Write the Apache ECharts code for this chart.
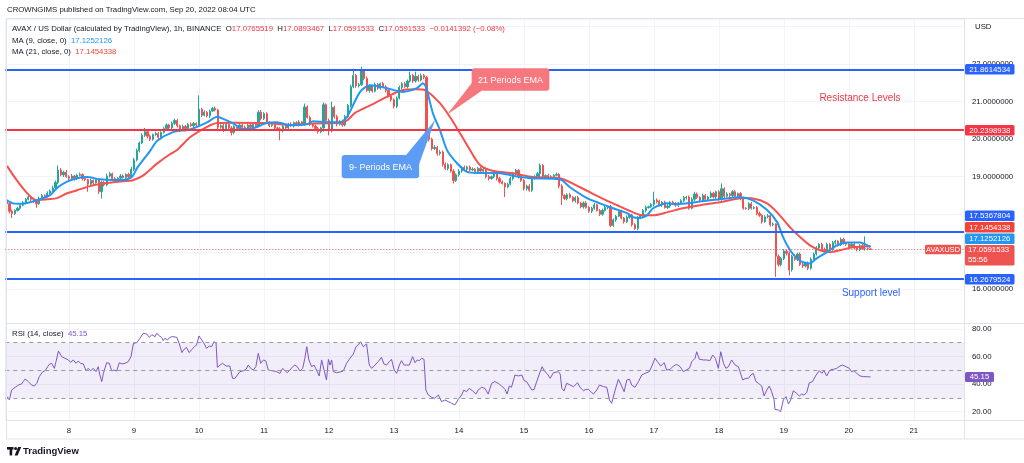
<!DOCTYPE html>
<html>
<head>
<meta charset="utf-8">
<title>AVAX / US Dollar 1h</title>
<script src="https://cdn.jsdelivr.net/npm/echarts@6/dist/echarts.min.js"></script>
<style>
html,body{margin:0;padding:0;background:#ffffff;}
#chart{width:1024px;height:463px;}
</style>
</head>
<body>
<div id="chart"></div>
<script>
// ================= DATA =================
// hour index i: 0 = Sep 7 00:00 UTC, one slot per hour
const startDay = 7;
const hourSlots = 354;
const firstOpen = 18.38;

const closes = [
18.28,18.08,18.02,18.10,18.16,18.24,18.30,18.40,18.46,18.40,18.34,18.28,18.42,18.50,18.48,18.56,18.62,18.70,18.85,19.18,19.05,19.12,19.00,18.96,
19.02,18.95,19.04,19.06,18.95,18.92,18.80,18.90,18.84,18.92,18.60,18.85,18.78,19.02,19.08,18.95,18.90,18.96,19.02,18.98,19.06,19.00,19.20,19.45,
19.70,19.90,20.10,20.20,20.08,20.00,20.12,20.15,20.05,20.18,20.28,20.38,20.30,20.42,20.50,20.36,20.25,20.34,20.28,20.40,20.36,20.42,20.38,20.80,
20.64,20.72,20.62,20.75,20.82,20.78,20.32,20.36,20.24,20.40,20.30,20.18,20.34,20.28,20.38,20.32,20.30,20.38,20.32,20.40,20.36,20.72,20.55,20.68,
20.45,20.36,20.40,20.30,20.28,20.22,20.35,20.30,20.40,20.36,20.44,20.38,20.46,20.40,20.86,20.58,20.40,20.35,20.28,20.20,20.30,20.92,20.50,20.22,
20.85,20.60,20.40,20.48,20.38,20.60,20.90,21.40,21.70,21.42,21.45,21.82,21.62,21.30,21.42,21.28,21.46,21.36,21.48,21.40,21.30,21.15,21.05,20.88,
21.10,21.38,21.48,21.40,21.55,21.70,21.55,21.68,21.58,21.70,21.65,20.15,20.00,19.75,19.78,19.62,19.66,19.33,19.22,19.32,19.15,18.90,19.05,19.15,
19.25,19.20,19.26,19.18,19.20,19.14,19.22,19.15,19.20,19.00,18.95,19.00,19.10,18.95,18.86,18.82,18.73,18.80,18.95,19.08,19.17,19.00,18.90,18.68,
18.75,18.64,18.95,19.00,19.08,19.30,19.00,19.03,18.98,19.00,19.04,19.06,18.75,18.50,18.42,18.52,18.45,18.36,18.44,18.30,18.20,18.30,18.18,18.08,
18.16,18.25,18.10,18.00,18.10,18.18,18.20,17.70,17.85,17.95,18.08,17.90,17.80,17.92,17.98,17.72,17.62,17.90,17.96,18.10,18.18,18.20,18.26,18.38,
18.34,18.25,18.32,18.18,18.22,18.32,18.28,18.24,18.30,18.36,18.44,18.46,18.16,18.40,18.54,18.45,18.38,18.50,18.40,18.46,18.56,18.46,18.60,18.40,
18.68,18.48,18.54,18.50,18.60,18.48,18.55,18.42,18.16,18.15,18.28,18.16,18.18,18.02,17.97,17.80,17.93,17.96,17.72,17.74,16.88,16.66,16.82,17.02,
16.96,16.52,16.88,16.80,16.94,16.66,16.62,16.70,16.56,16.80,16.94,17.10,17.20,17.06,17.02,17.20,17.06,17.24,17.28,17.18,17.33,17.24,17.20,17.14,
17.20,17.10,17.06,17.16,17.08,17.08,17.0765519,17.0591533
];

const wickUp = [
0.04,0.03,0.05,0.03,0.04,0.02,0.05,0.03,0.06,0.03,0.04,0.03,0.05,0.04,0.03,0.05,0.04,0.06,0.05,0.12,0.05,0.04,0.06,0.04,
0.05,0.03,0.04,0.05,0.03,0.04,0.03,0.05,0.03,0.04,0.03,0.05,0.04,0.06,0.05,0.03,0.04,0.03,0.05,0.04,0.03,0.05,0.06,0.05,
0.05,0.04,0.06,0.10,0.04,0.05,0.03,0.05,0.04,0.03,0.05,0.04,0.03,0.05,0.05,0.04,0.03,0.05,0.04,0.03,0.05,0.04,0.03,0.37,
0.04,0.05,0.03,0.04,0.04,0.05,0.03,0.04,0.05,0.03,0.04,0.05,0.03,0.04,0.05,0.03,0.04,0.03,0.05,0.04,0.03,0.05,0.06,0.04,
0.04,0.03,0.05,0.04,0.03,0.04,0.05,0.03,0.04,0.05,0.03,0.04,0.05,0.03,0.09,0.04,0.05,0.03,0.04,0.05,0.03,0.06,0.04,0.05,
0.15,0.04,0.05,0.03,0.04,0.05,0.04,0.05,0.18,0.04,0.05,0.11,0.04,0.05,0.04,0.03,0.05,0.04,0.03,0.05,0.04,0.03,0.05,0.04,
0.04,0.05,0.04,0.05,0.04,0.10,0.04,0.12,0.04,0.05,0.04,0.03,0.05,0.04,0.06,0.04,0.05,0.04,0.05,0.04,0.03,0.05,0.04,0.05,
0.04,0.05,0.03,0.04,0.05,0.03,0.04,0.05,0.03,0.04,0.05,0.03,0.04,0.03,0.05,0.04,0.03,0.04,0.05,0.05,0.04,0.03,0.05,0.04,
0.04,0.05,0.03,0.04,0.05,0.05,0.04,0.03,0.05,0.04,0.03,0.05,0.04,0.05,0.03,0.04,0.05,0.03,0.04,0.05,0.03,0.04,0.05,0.04,
0.04,0.05,0.03,0.04,0.05,0.04,0.03,0.05,0.04,0.03,0.05,0.04,0.03,0.05,0.04,0.03,0.04,0.05,0.03,0.04,0.05,0.03,0.04,0.22,
0.04,0.05,0.03,0.04,0.05,0.03,0.04,0.05,0.03,0.04,0.05,0.03,0.04,0.05,0.06,0.04,0.03,0.05,0.04,0.03,0.05,0.04,0.03,0.04,
0.14,0.04,0.05,0.03,0.04,0.05,0.03,0.04,0.05,0.03,0.04,0.05,0.03,0.04,0.05,0.03,0.04,0.05,0.03,0.04,0.02,0.05,0.04,0.05,
0.04,0.05,0.04,0.05,0.03,0.04,0.05,0.03,0.04,0.05,0.04,0.05,0.03,0.04,0.05,0.04,0.03,0.05,0.04,0.03,0.05,0.04,0.03,0.04,
0.04,0.05,0.03,0.04,0.05,0.33,0.03,0.0128
];

const wickDn = [
0.05,0.06,0.12,0.04,0.03,0.05,0.03,0.04,0.03,0.05,0.04,0.11,0.03,0.04,0.05,0.03,0.04,0.03,0.04,0.05,0.04,0.06,0.03,0.05,
0.03,0.05,0.04,0.03,0.05,0.04,0.20,0.04,0.05,0.03,0.06,0.18,0.04,0.03,0.04,0.05,0.03,0.05,0.04,0.03,0.05,0.04,0.04,0.05,
0.04,0.05,0.03,0.04,0.06,0.05,0.04,0.03,0.05,0.04,0.03,0.05,0.04,0.03,0.04,0.05,0.06,0.03,0.05,0.04,0.03,0.05,0.04,0.04,
0.05,0.03,0.04,0.05,0.03,0.04,0.06,0.04,0.05,0.03,0.04,0.08,0.05,0.04,0.03,0.05,0.04,0.03,0.05,0.04,0.03,0.04,0.05,0.04,
0.05,0.04,0.03,0.05,0.04,0.25,0.04,0.05,0.03,0.04,0.05,0.03,0.04,0.05,0.04,0.03,0.05,0.04,0.03,0.05,0.04,0.10,0.05,0.12,
0.04,0.05,0.06,0.04,0.05,0.04,0.03,0.05,0.04,0.05,0.04,0.03,0.05,0.04,0.06,0.04,0.03,0.05,0.04,0.03,0.05,0.04,0.05,0.06,
0.05,0.04,0.05,0.03,0.05,0.04,0.05,0.04,0.05,0.04,0.05,0.13,0.06,0.05,0.04,0.06,0.05,0.06,0.04,0.05,0.04,0.08,0.04,0.05,
0.04,0.03,0.05,0.04,0.03,0.05,0.04,0.03,0.05,0.04,0.05,0.03,0.04,0.05,0.04,0.03,0.27,0.04,0.03,0.05,0.04,0.05,0.04,0.05,
0.05,0.04,0.05,0.03,0.04,0.10,0.05,0.04,0.03,0.05,0.04,0.03,0.06,0.25,0.04,0.05,0.03,0.04,0.05,0.03,0.04,0.05,0.03,0.04,
0.05,0.04,0.03,0.05,0.04,0.03,0.05,0.05,0.04,0.05,0.03,0.04,0.05,0.03,0.04,0.05,0.04,0.05,0.03,0.04,0.05,0.03,0.04,0.05,
0.05,0.04,0.05,0.03,0.04,0.05,0.03,0.04,0.05,0.03,0.04,0.05,0.04,0.03,0.05,0.04,0.05,0.03,0.04,0.05,0.03,0.04,0.05,0.04,
0.04,0.05,0.03,0.04,0.05,0.03,0.04,0.05,0.04,0.03,0.05,0.04,0.03,0.05,0.04,0.05,0.03,0.04,0.05,0.04,0.55,0.06,0.05,0.04,
0.06,0.15,0.05,0.04,0.05,0.04,0.05,0.04,0.05,0.04,0.05,0.04,0.05,0.04,0.03,0.05,0.04,0.03,0.05,0.04,0.03,0.05,0.04,0.05,
0.04,0.03,0.05,0.04,0.03,0.05,0.04,0.0
];

// MA (9) line vertices: [hour index, price]
const ma9Pts = [
[1.1,18.37],[3.3,18.29],[5.9,18.28],[9.6,18.32],[13.3,18.40],[17.0,18.51],[19.9,18.72],[23.3,18.87],[27.0,18.96],[30.6,18.99],
[35.5,18.93],[40.3,18.91],[43.9,18.91],[47.3,19.00],[49.1,19.23],[51.3,19.44],[53.9,19.68],[56.5,19.95],[62.4,20.19],[68.7,20.26],
[75.0,20.45],[78.7,20.60],[81.6,20.52],[84.6,20.42],[88.3,20.27],[91.9,20.29],[97.1,20.43],[100.8,20.45],[105.6,20.37],[111.9,20.40],
[114.1,20.48],[120.4,20.45],[124.1,20.45],[126.7,20.60],[131.5,21.26],[135.2,21.44],[141.4,21.36],[147.3,21.26],[152.5,21.36],[154.7,21.49],
[155.8,21.40],[158.4,20.69],[161.0,20.24],[163.6,19.71],[167.3,19.36],[171.0,19.13],[175.8,19.10],[183.2,19.09],[190.5,18.99],[195.3,18.96],
[205.3,18.93],[209.0,18.72],[215.3,18.43],[220.1,18.29],[224.9,18.16],[230.1,18.03],[232.3,17.92],[234.9,17.90],[237.4,17.97],[239.7,18.16],
[244.8,18.29],[248.5,18.27],[253.3,18.30],[257.0,18.34],[264.4,18.40],[271.8,18.45],[276.6,18.37],[281.8,18.11],[285.5,17.79],[287.7,17.39],
[290.3,17.04],[292.8,16.83],[295.1,16.72],[297.6,16.69],[300.2,16.83],[303.9,16.99],[307.6,17.17],[311.3,17.25],[316.1,17.25],[320,17.1252126]
];

// MA (21) line vertices: [hour index, price]
const ma21Pts = [
[1.1,19.29],[12.2,18.37],[15.9,18.40],[19.6,18.43],[23.3,18.56],[27.0,18.64],[31.8,18.75],[38.0,18.83],[43.9,18.88],[47.3,18.90],
[51.3,19.03],[56.5,19.35],[61.3,19.60],[63.9,19.71],[68.7,20.05],[75.0,20.33],[78.7,20.43],[84.6,20.44],[97.1,20.43],[106.7,20.38],
[114.1,20.42],[124.1,20.44],[126.7,20.50],[129.6,20.70],[135.2,20.90],[141.4,21.13],[147.3,21.31],[152.5,21.33],[155.5,21.31],[161.0,20.96],
[164.7,20.59],[168.4,20.16],[172.1,19.71],[175.8,19.31],[180.6,19.15],[188.0,19.09],[195.3,18.99],[205.3,18.96],[212.7,18.72],[220.1,18.45],
[226.4,18.24],[232.3,18.05],[236.0,17.97],[239.7,17.97],[244.8,18.05],[250.7,18.16],[257.0,18.24],[264.4,18.32],[272.9,18.43],[276.6,18.42],
[281.8,18.29],[285.5,18.05],[290.3,17.65],[294.0,17.39],[297.6,17.17],[301.3,17.04],[305.0,16.99],[308.7,17.04],[313.5,17.12],[320,17.1454338]
];

// RSI (14) vertices: [hour index, RSI]
const rsiPts = [
[1.2,30.9],[2.0,28.5],[2.8,35.7],[4.1,37.6],[5.3,39.3],[6.5,40.1],[7.1,41.8],[7.8,43.7],[9.0,41.8],[10.2,39.3],[11.2,38.6],[12.1,40.5],
[13.0,45.4],[14.3,49.0],[15.1,49.5],[15.8,49.0],[16.7,54.3],[17.6,55.1],[18.6,51.4],[19.2,56.2],[20.1,64.0],[21.3,59.9],[22.5,58.7],[23.8,57.5],
[24.6,55.8],[25.6,57.5],[26.6,55.1],[27.4,56.7],[28.3,55.1],[29.3,54.6],[30.3,49.7],[31.1,51.4],[32.0,49.7],[33.0,51.4],[34.0,49.0],[34.8,52.6],
[35.4,46.6],[36.1,41.8],[36.7,47.8],[37.9,55.5],[38.9,55.1],[39.8,49.5],[40.6,50.2],[41.6,49.5],[42.6,55.5],[43.6,54.6],[44.7,55.1],[45.9,56.3],
[46.9,59.9],[47.8,69.5],[49.0,70.0],[50.2,73.2],[51.4,76.8],[52.7,76.3],[53.7,73.9],[54.6,75.8],[55.8,74.4],[56.4,76.8],[57.4,74.9],[58.2,73.9],
[58.8,71.5],[59.4,73.2],[60.4,72.0],[61.3,73.9],[62.3,74.4],[63.8,73.9],[64.7,69.5],[65.7,62.8],[66.5,65.2],[67.4,66.6],[68.4,62.8],[69.4,65.2],
[70.3,67.1],[71.1,68.3],[72.0,74.9],[73.0,72.0],[74.0,69.1],[74.8,65.9],[75.8,67.6],[76.7,67.1],[77.5,70.7],[78.3,70.0],[78.8,52.1],[79.8,53.8],
[80.7,55.1],[82.0,53.1],[83.4,53.1],[84.4,44.2],[85.3,44.2],[86.2,46.6],[87.1,49.0],[88.4,49.7],[89.4,50.7],[90.2,53.8],[91.1,51.4],[92.1,50.2],
[93.0,52.6],[93.9,62.3],[94.8,55.1],[95.8,57.5],[96.7,56.7],[97.6,50.2],[98.8,49.7],[99.7,49.5],[100.7,49.0],[101.9,47.8],[102.9,51.4],[103.8,49.7],
[104.6,48.3],[105.6,50.2],[106.6,52.6],[107.4,53.8],[108.3,52.6],[109.3,49.5],[110.3,51.4],[111.1,58.7],[111.8,67.1],[112.6,57.5],[113.6,52.6],[114.5,53.8],
[115.4,50.2],[116.4,45.9],[117.3,57.5],[118.2,50.2],[119.1,43.0],[119.8,57.9],[120.4,53.8],[121.0,57.5],[121.6,49.0],[122.8,48.3],[124.1,48.8],[125.3,49.5],
[126.5,55.1],[127.8,58.7],[129.0,61.8],[130.0,67.1],[130.8,68.3],[131.7,70.7],[132.7,67.1],[133.9,69.1],[134.9,53.8],[135.8,51.4],[137.0,53.8],[138.2,56.3],
[139.4,59.4],[140.3,54.6],[141.3,53.8],[142.3,56.3],[143.1,58.0],[144.1,50.2],[145.0,47.8],[146.0,53.8],[146.8,57.0],[147.7,53.8],[148.7,53.8],[149.7,53.8],
[150.9,59.9],[151.8,55.5],[152.6,57.5],[153.4,57.0],[154.2,58.7],[155.1,58.0],[155.8,35.7],[156.7,32.1],[157.9,30.4],[159.1,29.7],[160.4,32.1],[161.6,27.3],
[162.8,28.5],[164.1,27.3],[165.3,26.1],[166.5,24.9],[167.8,29.0],[169.0,32.1],[169.8,35.7],[170.8,34.5],[171.8,36.9],[173.0,35.2],[174.3,32.8],[175.1,35.7],
[176.4,37.7],[177.6,36.9],[178.8,32.8],[180.1,40.6],[181.3,41.8],[182.5,40.6],[183.8,38.6],[185.0,36.2],[185.8,32.8],[186.6,38.6],[187.4,37.7],[188.7,46.6],
[189.9,45.9],[191.2,46.6],[192.1,42.5],[193.0,41.8],[194.0,38.6],[194.9,35.7],[195.8,36.2],[196.7,41.8],[197.7,47.3],[198.7,52.6],[199.8,49.0],[200.7,47.3],
[201.7,44.2],[202.9,48.3],[204.7,49.0],[205.4,47.3],[206.0,36.9],[206.8,35.0],[207.8,40.6],[209.0,39.4],[210.3,38.1],[211.8,41.0],[212.7,37.7],[214.0,35.2],
[214.9,36.2],[215.8,36.2],[216.7,34.5],[217.7,32.8],[218.9,35.7],[219.9,39.4],[221.4,38.1],[222.6,37.7],[223.6,28.5],[224.4,26.1],[225.7,35.7],[226.9,43.5],
[228.1,38.6],[229.0,34.5],[230.0,43.0],[231.0,43.5],[231.8,39.3],[233.0,37.7],[234.3,41.8],[235.5,46.6],[236.7,47.8],[238.3,49.0],[239.4,53.8],[240.4,58.7],
[241.3,56.3],[242.5,53.1],[243.8,55.5],[244.7,50.2],[246.0,50.7],[247.2,53.1],[248.4,54.3],[249.7,52.6],[250.9,49.0],[251.9,50.2],[253.1,51.4],[254.0,56.3],
[255.2,58.7],[255.8,63.5],[256.8,58.0],[258.3,57.5],[259.5,57.5],[260.7,57.0],[261.7,61.1],[262.7,58.7],[263.8,51.4],[264.7,63.5],[265.7,55.1],[266.6,51.4],
[267.5,52.6],[268.7,57.5],[270.0,53.8],[271.2,52.6],[271.8,53.8],[272.8,43.0],[274.0,44.2],[274.9,44.2],[275.8,46.6],[276.7,47.8],[277.7,41.8],[278.6,40.6],
[279.8,38.6],[280.7,31.4],[281.7,35.7],[282.6,38.6],[283.5,34.5],[284.4,28.5],[284.7,21.7],[286.0,21.2],[286.8,20.0],[287.8,28.5],[288.8,30.9],[289.7,25.6],
[290.5,28.5],[291.5,35.2],[292.7,33.3],[293.7,31.4],[294.6,32.8],[295.4,32.1],[296.4,33.8],[297.4,41.0],[298.6,41.8],[299.9,46.6],[301.1,49.7],[302.0,47.8],
[302.8,49.7],[303.8,45.9],[305.0,50.2],[306.3,50.7],[307.5,51.4],[308.7,53.1],[309.7,53.8],[311.0,52.6],[312.2,51.4],[313.0,49.0],[313.9,49.7],[314.9,47.8],
[316.1,45.9],[317.4,45.4],[318.6,45.4],[320,45.15]
];

const priceTickLabels = [16, 19, 20, 21, 22];
const rsiTickLabels = [20, 40, 60, 80];
const rsiBand = [30, 70];
const rsiMid = 50;
const levelValues = [21.8614534, 20.2398938, 17.5367804, 16.2679524];
const levelColors = ['#2962ff', '#f23645', '#2962ff', '#2962ff'];
const lastOHLC = { o: 17.0765519, h: 17.0893467, l: 17.0591533, c: 17.0591533, chg: '\u22120.0141392 (\u22120.08%)' };
const ma9Last = 17.1252126;
const ma21Last = 17.1454338;
const rsiLast = 45.15;
const countdown = '55:56';

if (closes.length !== wickUp.length || closes.length !== wickDn.length) {
  throw new Error('length mismatch ' + closes.length + ' ' + wickUp.length + ' ' + wickDn.length);
}

// ================= BUILD =================
const categories = Array.from({ length: hourSlots }, (_, k) => String(k + 1));
const candles = categories.map((_, k) => {
  if (k >= closes.length) return '-';
  const o = k === 0 ? firstOpen : closes[k - 1];
  const c = closes[k];
  return [o, c, Math.min(o, c) - wickDn[k], Math.max(o, c) + wickUp[k]];
});

const FONT = '"Liberation Sans", Arial, sans-serif';
const FS = 7.8;
const TXT = '#131722';
const GRID_COLOR = '#f0f3fa';
const GL = 5.35, GW = 958.6;

const isTick = (v, list) => list.some(t => Math.abs(t - v) < 1e-6);

const option = {
  animation: false,
  backgroundColor: '#ffffff',
  textStyle: { fontFamily: FONT },
  grid: [
    { left: GL, width: GW, top: 19, height: 304 },
    { left: GL, width: GW, top: 323, height: 97 }
  ],
  xAxis: [
    { type: 'category', gridIndex: 0, data: categories, show: false, boundaryGap: true },
    { type: 'value', gridIndex: 0, min: 0.5, max: hourSlots + 0.5, minInterval: 24, maxInterval: 24,
      axisLine: { show: false }, axisTick: { show: false }, axisLabel: { show: false },
      splitLine: { show: true, lineStyle: { color: GRID_COLOR, width: 1 } } },
    { type: 'value', gridIndex: 1, min: 0.5, max: hourSlots + 0.5, minInterval: 24, maxInterval: 24,
      axisLine: { show: false }, axisTick: { show: false },
      axisLabel: { show: true, fontSize: FS, color: TXT, margin: 7, fontFamily: FONT,
        formatter: v => (v > 0 && Math.abs(v % 24) < 1e-6) ? String(startDay + v / 24) : '' },
      splitLine: { show: true, lineStyle: { color: GRID_COLOR, width: 1 } } }
  ],
  yAxis: [
    { type: 'value', gridIndex: 0, position: 'right', min: 15.101, max: 23.204, minInterval: 1, maxInterval: 1,
      axisLine: { show: false }, axisTick: { show: false },
      axisLabel: { fontSize: FS, color: TXT, margin: 8, fontFamily: FONT,
        formatter: v => isTick(v, priceTickLabels) ? v.toFixed(7) : '' },
      splitLine: { show: true, lineStyle: { color: GRID_COLOR, width: 1 } } },
    { type: 'value', gridIndex: 1, position: 'right', min: 13.99, max: 84.28, minInterval: 20, maxInterval: 20,
      axisLine: { show: false }, axisTick: { show: false },
      axisLabel: { fontSize: FS, color: TXT, margin: 8, fontFamily: FONT,
        formatter: v => isTick(v, rsiTickLabels) ? v.toFixed(2) : '' },
      splitLine: { show: true, lineStyle: { color: GRID_COLOR, width: 1 } } }
  ],
  series: [
    { type: 'candlestick', name: 'AVAXUSD', xAxisIndex: 0, yAxisIndex: 0, data: candles, barWidth: 1.7,
      itemStyle: { color: '#26a69a', color0: '#ef5350', borderColor: '#26a69a', borderColor0: '#ef5350', borderWidth: 1 },
      markLine: { silent: true, symbol: 'none', label: { show: false },
        data: [{ yAxis: lastOHLC.c, lineStyle: { color: '#ef5350', type: [1, 2], width: 1 } }] } },
    { type: 'line', name: 'MA21', xAxisIndex: 1, yAxisIndex: 0, data: ma21Pts, showSymbol: false, smooth: 0.25,
      lineStyle: { color: '#f5514f', width: 2 }, z: 3 },
    { type: 'line', name: 'MA9', xAxisIndex: 1, yAxisIndex: 0, data: ma9Pts, showSymbol: false, smooth: 0.25,
      lineStyle: { color: '#2196f3', width: 2 }, z: 3,
      markLine: { silent: true, symbol: 'none', label: { show: false },
        data: levelValues.map((v, k) => ({ yAxis: v, lineStyle: { color: levelColors[k], width: 2, type: 'solid' } })) } },
    { type: 'line', name: 'RSI', xAxisIndex: 2, yAxisIndex: 1, data: rsiPts, showSymbol: false,
      lineStyle: { color: '#7e57c2', width: 1 },
      markArea: { silent: true, itemStyle: { color: 'rgba(126,87,194,0.1)' },
        data: [[{ yAxis: rsiBand[0] }, { yAxis: rsiBand[1] }]] },
      markLine: { silent: true, symbol: 'none', label: { show: false },
        lineStyle: { color: '#9598a1', type: [4, 4], width: 1 },
        data: [{ yAxis: rsiBand[1] }, { yAxis: rsiMid }, { yAxis: rsiBand[0] }] } }
  ]
};

const chart = echarts.init(document.getElementById('chart'), null, { renderer: 'canvas' });
chart.setOption(option);

// ================= OVERLAYS =================
const P = (i, v) => chart.convertToPixel({ xAxisIndex: 1, yAxisIndex: 0 }, [i, v]);
const yPrice = v => chart.convertToPixel({ yAxisIndex: 0 }, v);
const yRsi = v => chart.convertToPixel({ yAxisIndex: 1 }, v);

function text(x, y, s, extra) {
  return { type: 'text', z: 100, silent: true,
    style: Object.assign({ x: x, y: y, text: s, fill: TXT, fontSize: FS, fontFamily: FONT,
      align: 'left', textAlign: 'left', verticalAlign: 'middle', textVerticalAlign: 'middle' }, extra || {}) };
}
function rect(x, y, w, h, fill, r, z) {
  return { type: 'rect', z: z || 90, silent: true, shape: { x: x, y: y, width: w, height: h, r: r || 0 }, style: { fill: fill } };
}
function hline(x1, x2, y, color) {
  return { type: 'line', z: 80, silent: true, shape: { x1: x1, y1: y, x2: x2, y2: y }, style: { stroke: color, lineWidth: 1 } };
}

const els = [];
const AX = 965;        // price axis left edge
const right = 1024;
// frame
els.push({ type: 'rect', z: 80, silent: true, shape: { x: 6.5, y: 18.5, width: 1030, height: 420.5 }, style: { fill: 'none', stroke: '#e0e3eb', lineWidth: 1 } });
els.push(hline(6.5, right, 323.5, '#e0e3eb'));
els.push(hline(6.5, right, 420.5, '#e0e3eb'));
els.push({ type: 'line', z: 80, silent: true, shape: { x1: AX - 0.5, y1: 18.5, x2: AX - 0.5, y2: 439 }, style: { stroke: '#e0e3eb', lineWidth: 1 } });

// header & legends
const rs = (c) => ({ fill: c, color: c, fontSize: FS, fontFamily: FONT });
els.push(text(7, 9.5, 'CROWNGIMS published on TradingView.com, Sep 20, 2022 08:04 UTC'));
els.push(text(12, 29, '{d|AVAX / US Dollar (calculated by TradingView), 1h, BINANCE  O}{r|' + lastOHLC.o.toFixed(7) +
  '}{d|  H}{r|' + lastOHLC.h.toFixed(7) + '}{d|  L}{r|' + lastOHLC.l.toFixed(7) + '}{d|  C}{r|' + lastOHLC.c.toFixed(7) +
  '  ' + lastOHLC.chg + '}', { rich: { d: rs(TXT), r: rs('#f23645') } }));
els.push(text(12, 40.5, '{d|MA (9, close, 0)  }{b|' + ma9Last.toFixed(7) + '}', { rich: { d: rs(TXT), b: rs('#2196f3') } }));
els.push(text(12, 52, '{d|MA (21, close, 0)  }{r|' + ma21Last.toFixed(7) + '}', { rich: { d: rs(TXT), r: rs('#f44336') } }));
els.push(text(12, 334, '{d|RSI (14, close)  }{p|' + rsiLast.toFixed(2) + '}', { rich: { d: rs(TXT), p: rs('#7e57c2') } }));
els.push(text(975, 27, 'USD'));

// price axis tags with stacking around the last-price tag
const TAG_H = 10.5, GAP = 1, TAG_W = 49.5;
const py = yPrice(lastOHLC.c);
const priceTop = py - 4.5, priceH = 20.5;
const tagDefs = levelValues.map((v, k) => ({ v: v, c: levelColors[k] }))
  .concat([{ v: ma21Last, c: '#f44336' }, { v: ma9Last, c: '#2196f3' }]);
const above = tagDefs.filter(t => t.v > lastOHLC.c).sort((a, b) => a.v - b.v);
const below = tagDefs.filter(t => t.v <= lastOHLC.c).sort((a, b) => b.v - a.v);
let limit = priceTop - GAP;
above.forEach(t => {
  const want = yPrice(t.v);
  t.cy = Math.min(want, limit - TAG_H / 2);
  limit = t.cy - TAG_H / 2 - GAP;
});
limit = priceTop + priceH + GAP;
below.forEach(t => {
  const want = yPrice(t.v);
  t.cy = Math.max(want, limit + TAG_H / 2);
  limit = t.cy + TAG_H / 2 + GAP;
});
above.concat(below).forEach(t => {
  els.push(rect(AX, t.cy - TAG_H / 2, TAG_W, TAG_H, t.c, 1.5, 95));
  els.push(text(AX + TAG_W / 2, t.cy + 0.3, t.v.toFixed(7), { fill: '#ffffff', align: 'center', textAlign: 'center', z2: 1 }));
});
els.push(rect(AX, priceTop, TAG_W, priceH, '#ef5350', 1.5, 95));
els.push(text(AX + 3, py + 0.3, lastOHLC.c.toFixed(7), { fill: '#ffffff' }));
els.push(text(AX + 3, py + 10.8, countdown, { fill: '#ffffff' }));
// symbol tag on price line
els.push(rect(925, py - 4.8, 36, 9.6, '#ef5350', 1.5, 95));
els.push(text(943, py + 0.2, 'AVAXUSD', { fill: '#ffffff', fontSize: 7.3, align: 'center', textAlign: 'center' }));
// RSI tag
const ry = yRsi(rsiLast);
els.push(rect(AX, ry - 5, 29, 10, '#7e57c2', 1.5, 95));
els.push(text(AX + 14.5, ry + 0.3, rsiLast.toFixed(2), { fill: '#ffffff', align: 'center', textAlign: 'center' }));

// callouts (anchored in data coordinates: [hour index, price])
const callouts = [
  { label: '21 Periods EMA', box: [172.7, 21.89, 201.4, 21.29], tip: [163.5, 20.645], fill: '#f6777d', side: 'bottomLeft' },
  { label: '9- Periods EMA', box: [124.7, 19.58, 153.3, 18.96], tip: [159.2, 20.51], fill: '#5d9cf5', side: 'topRight' }
];
callouts.forEach(c => {
  const a = P(c.box[0], c.box[1]), b = P(c.box[2], c.box[3]), tp = P(c.tip[0], c.tip[1]);
  const x0 = a[0], y0 = a[1], x1 = b[0], y1 = b[1];
  let pts;
  if (c.side === 'bottomLeft') pts = [[x0, y1 - 7.5], tp, [x0 + 10, y1]];
  else pts = [[x1 - 13, y0], tp, [x1, y0 + 9]];
  els.push({ type: 'polygon', z: 96, silent: true, shape: { points: pts }, style: { fill: c.fill } });
  els.push(rect(x0, y0, x1 - x0, y1 - y0, c.fill, 3, 96));
  els.push(text((x0 + x1) / 2, (y0 + y1) / 2 + 0.5, c.label, { fill: '#ffffff', fontSize: 9, align: 'center', textAlign: 'center', z2: 2 }));
});

// level captions (anchored in data coordinates)
const captions = [
  { text: 'Resistance Levels', at: [316.1, 21.09], color: '#f23645' },
  { text: 'Support level', at: [320.2, 15.893], color: '#2962ff' }
];
captions.forEach(c => {
  const p = P(c.at[0], c.at[1]);
  els.push(text(p[0], p[1], c.text, { fill: c.color, fontSize: 10, align: 'center', textAlign: 'center' }));
});

// TradingView mark
els.push(rect(7, 447, 6.5, 2.6, TXT, 0, 100));
els.push(rect(9.6, 447, 2.6, 8.4, TXT, 0, 100));
els.push({ type: 'circle', z: 100, silent: true, shape: { cx: 15.6, cy: 448.4, r: 1.5 }, style: { fill: TXT } });
els.push({ type: 'polygon', z: 100, silent: true, shape: { points: [[18.2, 447], [21.2, 447], [17.6, 455.4], [14.6, 455.4]] }, style: { fill: TXT } });
els.push(text(23, 451.5, 'TradingView', { fontSize: 9.5, fontWeight: 'bold' }));

chart.setOption({ graphic: { elements: els } });
</script>
</body>
</html>
